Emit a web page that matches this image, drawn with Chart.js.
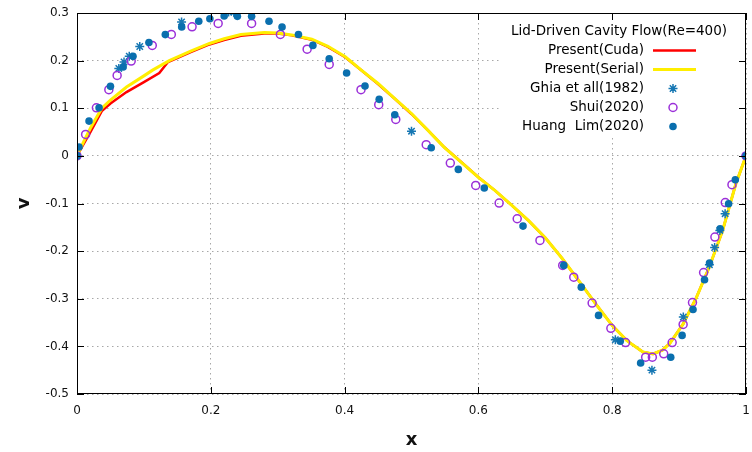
<!DOCTYPE html>
<html>
<head>
<meta charset="utf-8">
<script src="https://cdn.jsdelivr.net/npm/chart.js@4.4.0/dist/chart.umd.min.js"></script>
<style>
html, body { margin: 0; padding: 0; background: #fff; }
</style>
</head>
<body>
<canvas id="chart" width="752" height="452"></canvas>
<script>
// Present(Cuda) / Present(Serial) curves
const cudaX = [0, 0.01, 0.02, 0.037, 0.05, 0.074, 0.1, 0.123, 0.136, 0.17, 0.198, 0.22, 0.245, 0.28, 0.3, 0.321, 0.351, 0.375, 0.401, 0.425, 0.45, 0.475, 0.5, 0.525, 0.549, 0.575, 0.6, 0.625, 0.65, 0.675, 0.7, 0.725, 0.75, 0.775, 0.8, 0.822, 0.846, 0.861, 0.875, 0.886, 0.906, 0.926, 0.945, 0.965, 0.985, 1];
const cudaV = [0, 0.025, 0.05, 0.094, 0.11, 0.134, 0.155, 0.174, 0.197, 0.218, 0.234, 0.243, 0.252, 0.257, 0.257, 0.253, 0.244, 0.229, 0.207, 0.18, 0.151, 0.12, 0.088, 0.053, 0.018, -0.014, -0.045, -0.073, -0.104, -0.136, -0.172, -0.215, -0.262, -0.31, -0.356, -0.388, -0.412, -0.416, -0.408, -0.394, -0.353, -0.297, -0.234, -0.157, -0.058, 0];
const serialX = [0, 0.01, 0.02, 0.037, 0.05, 0.074, 0.1, 0.113, 0.138, 0.17, 0.198, 0.22, 0.245, 0.28, 0.3, 0.321, 0.351, 0.375, 0.401, 0.425, 0.45, 0.475, 0.5, 0.525, 0.549, 0.575, 0.6, 0.625, 0.65, 0.675, 0.7, 0.725, 0.75, 0.775, 0.8, 0.822, 0.846, 0.861, 0.875, 0.886, 0.906, 0.926, 0.945, 0.965, 0.985, 1];
const serialV = [0, 0.03, 0.058, 0.1, 0.117, 0.1445, 0.168, 0.18, 0.2, 0.22, 0.236, 0.246, 0.255, 0.259, 0.258, 0.254, 0.245, 0.23, 0.208, 0.18, 0.152, 0.12, 0.089, 0.053, 0.018, -0.014, -0.045, -0.073, -0.104, -0.136, -0.172, -0.215, -0.262, -0.31, -0.356, -0.388, -0.412, -0.416, -0.408, -0.394, -0.353, -0.297, -0.234, -0.157, -0.058, 0];

// Ghia et al (1982), Re=400
const ghiaX = [1.0, 0.9688, 0.9609, 0.9531, 0.9453, 0.9063, 0.8594, 0.8047, 0.5, 0.2344, 0.2266, 0.1563, 0.0938, 0.0781, 0.0703, 0.0625, 0];
const ghiaV = [0, -0.12146, -0.15663, -0.19254, -0.22847, -0.33827, -0.44993, -0.38598, 0.05186, 0.30174, 0.30203, 0.28124, 0.22965, 0.2092, 0.19713, 0.1836, 0];

// Shui (2020)
const shuiX = [0, 0.0129, 0.029, 0.0476, 0.06, 0.081, 0.1125, 0.141, 0.172, 0.211, 0.261, 0.304, 0.344, 0.377, 0.4245, 0.451, 0.4765, 0.522, 0.558, 0.596, 0.631, 0.658, 0.692, 0.726, 0.7425, 0.77, 0.798, 0.82, 0.85, 0.86, 0.877, 0.8896, 0.906, 0.92, 0.9366, 0.9535, 0.969, 0.979, 1];
const shuiV = [0, 0.045, 0.101, 0.139, 0.169, 0.199, 0.232, 0.255, 0.271, 0.278, 0.278, 0.255, 0.224, 0.192, 0.139, 0.1075, 0.0766, 0.0235, -0.015, -0.062, -0.099, -0.132, -0.1775, -0.23, -0.2546, -0.309, -0.362, -0.392, -0.4227, -0.4227, -0.4156, -0.392, -0.354, -0.308, -0.245, -0.1705, -0.098, -0.0605, 0];

// Huang Lim (2020)
const huangX = [0, 0.003, 0.018, 0.033, 0.05, 0.069, 0.0837, 0.1075, 0.132, 0.1565, 0.182, 0.1986, 0.22, 0.2397, 0.261, 0.287, 0.3065, 0.331, 0.3526, 0.377, 0.403, 0.4305, 0.4517, 0.475, 0.5295, 0.57, 0.6088, 0.6667, 0.7276, 0.7538, 0.7796, 0.812, 0.8425, 0.8875, 0.9045, 0.9208, 0.938, 0.9455, 0.9613, 0.974, 0.984, 1];
const huangV = [0, 0.0185, 0.073, 0.101, 0.146, 0.1865, 0.209, 0.238, 0.2546, 0.2706, 0.2826, 0.288, 0.2937, 0.293, 0.293, 0.2826, 0.2706, 0.255, 0.232, 0.204, 0.174, 0.1466, 0.1187, 0.0865, 0.0172, -0.0284, -0.0676, -0.1475, -0.23, -0.2756, -0.335, -0.389, -0.435, -0.4227, -0.377, -0.3225, -0.26, -0.225, -0.153, -0.1004, -0.05, 0];

const keyTitle = 'Lid-Driven Cavity Flow(Re=400)';

const pts = (xs, vs) => xs.map((x, i) => ({x: x, y: vs[i]}));

const fontFamily = 'DejaVu Sans';
Chart.defaults.font.family = fontFamily;

const keyPlugin = {
    id: 'key',
    beforeDatasetsDraw(chart) {
        // gnuplot key box is opaque over the grid
        const {ctx, chartArea: a} = chart;
        ctx.save();
        ctx.fillStyle = '#fff';
        ctx.fillRect(a.right - 246, a.top + 1, 245, 123);
        ctx.restore();
    },
    afterDatasetsDraw(chart) {
        const {ctx, chartArea: a, scales} = chart;
        ctx.save();
        ctx.strokeStyle = '#000';
        ctx.lineWidth = 1;
        ctx.strokeRect(a.left + 0.5, a.top + 0.5, a.right - a.left - 1, a.bottom - a.top - 1);
        // inward tick marks on all four sides
        ctx.beginPath();
        scales.x.ticks.forEach(t => {
            const px = Math.round(scales.x.getPixelForValue(t.value)) + 0.5;
            ctx.moveTo(px, a.bottom); ctx.lineTo(px, a.bottom - 7);
            ctx.moveTo(px, a.top); ctx.lineTo(px, a.top + 7);
        });
        scales.y.ticks.forEach(t => {
            const py = Math.round(scales.y.getPixelForValue(t.value)) + 0.5;
            ctx.moveTo(a.left, py); ctx.lineTo(a.left + 7, py);
            ctx.moveTo(a.right, py); ctx.lineTo(a.right - 7, py);
        });
        ctx.stroke();

        // key
        ctx.fillStyle = '#000';
        ctx.font = '13.5px ' + fontFamily;
        ctx.textBaseline = 'middle';
        ctx.textAlign = 'center';
        const row = i => a.top + 18.5 + i * 19;
        ctx.fillText(keyTitle, a.right - 127, row(0));
        ctx.textAlign = 'right';
        chart.data.datasets.forEach((ds, i) => {
            const y = row(i + 1);
            ctx.fillStyle = '#000';
            ctx.fillText(ds.label, a.right - 102, y);
            if (ds.showLine) {
                ctx.strokeStyle = ds.borderColor;
                ctx.lineWidth = ds.borderWidth;
                ctx.beginPath();
                ctx.moveTo(a.right - 93, y);
                ctx.lineTo(a.right - 50, y);
                ctx.stroke();
            } else {
                ctx.fillStyle = ds.pointBackgroundColor;
                ctx.strokeStyle = ds.pointBorderColor;
                ctx.lineWidth = ds.pointBorderWidth;
                Chart.helpers.drawPoint(ctx, {
                    pointStyle: ds.pointStyle,
                    radius: ds.pointRadius,
                    borderWidth: ds.pointBorderWidth,
                    rotation: 0
                }, a.right - 73, y);
            }
        });
        ctx.restore();
    }
};

const gridOpts = {
    color: '#a8a8a8',
    lineWidth: 1,
    drawTicks: false,
};

new Chart(document.getElementById('chart'), {
    type: 'scatter',
    data: {
        datasets: [
            {
                label: 'Present(Cuda)',
                data: pts(cudaX, cudaV),
                showLine: true,
                borderColor: '#ff0000',
                borderWidth: 2.5,
                pointRadius: 0,
                order: 5,
            },
            {
                label: 'Present(Serial)',
                data: pts(serialX, serialV),
                showLine: true,
                borderColor: '#ffee00',
                borderWidth: 3,
                pointRadius: 0,
                order: 4,
            },
            {
                label: 'Ghia et all(1982)',
                data: pts(ghiaX, ghiaV),
                pointStyle: 'star',
                pointRadius: 4.5,
                pointBorderWidth: 1.5,
                pointBorderColor: '#1677b3',
                pointBackgroundColor: '#1677b3',
                order: 3,
            },
            {
                label: 'Shui(2020)',
                data: pts(shuiX, shuiV),
                pointStyle: 'circle',
                pointRadius: 4,
                pointBorderWidth: 1.5,
                pointBorderColor: '#9b30d9',
                pointBackgroundColor: 'rgba(255,255,255,0)',
                order: 2,
            },
            {
                label: 'Huang  Lim(2020)',
                data: pts(huangX, huangV),
                pointStyle: 'circle',
                pointRadius: 3.8,
                pointBorderWidth: 0,
                pointBorderColor: '#0a6fae',
                pointBackgroundColor: '#0a6fae',
                order: 1,
            },
        ],
    },
    options: {
        responsive: false,
        animation: false,
        layout: {
            padding: {top: 13, right: 2, bottom: 0, left: 0},
        },
        plugins: {
            legend: {display: false},
            tooltip: {enabled: false},
        },
        scales: {
            x: {
                type: 'linear',
                min: 0,
                max: 1,
                afterFit(scale) {
                    scale.height = 58;
                    scale.paddingLeft = 0;
                    scale.paddingRight = 0;
                },
                grid: {...gridOpts},
                border: {display: false, dash: [1.5, 3.5]},
                ticks: {
                    stepSize: 0.2,
                    padding: 10,
                    color: '#111',
                    maxRotation: 0,
                    font: {size: 12},
                    callback: v => String(Math.round(v * 10) / 10),
                },
                title: {
                    display: true,
                    text: 'x',
                    color: '#111',
                    font: {size: 18, weight: 'bold'},
                    padding: {top: 0, bottom: 1},
                },
            },
            y: {
                type: 'linear',
                min: -0.5,
                max: 0.3,
                afterFit(scale) {
                    scale.width = 77;
                    scale.paddingTop = 0;
                    scale.paddingBottom = 0;
                },
                grid: {...gridOpts},
                border: {display: false, dash: [1.5, 3.5]},
                ticks: {
                    stepSize: 0.1,
                    padding: 8,
                    color: '#111',
                    font: {size: 12},
                    callback: v => String(Math.round(v * 10) / 10),
                },
                title: {
                    display: true,
                    text: 'v',
                    color: '#111',
                    font: {size: 18, weight: 'bold'},
                    padding: {top: 14, bottom: 0},
                },
            },
        },
    },
    plugins: [keyPlugin],
});
</script>
</body>
</html>
